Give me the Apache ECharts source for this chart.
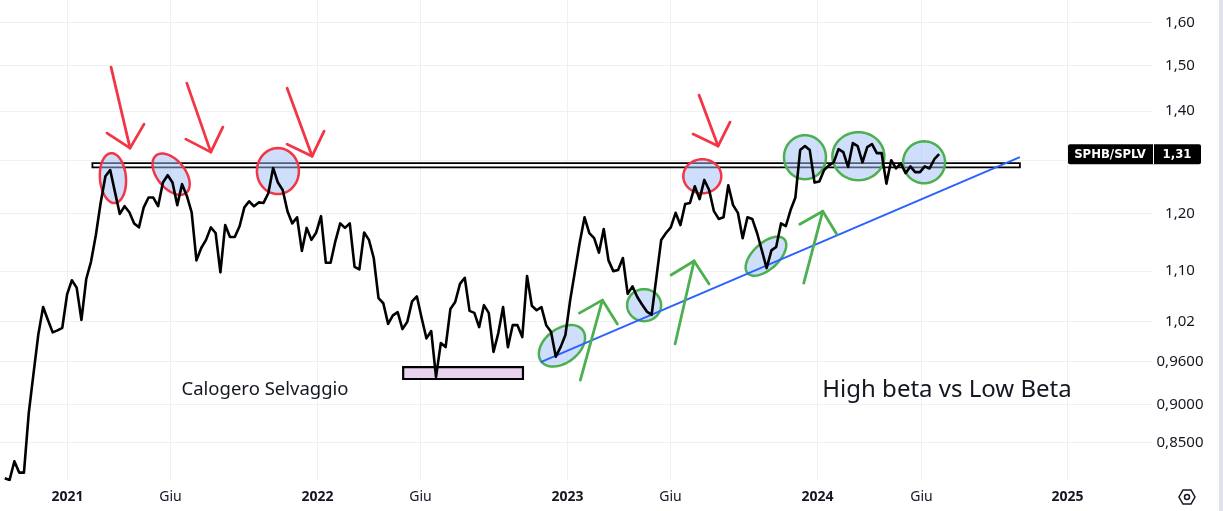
<!DOCTYPE html>
<html><head><meta charset="utf-8">
<script src="https://cdn.jsdelivr.net/npm/echarts@6/dist/echarts.min.js"></script>
<style>html,body{margin:0;padding:0;background:#fff;overflow:hidden}#c{width:1223px;height:511px}</style>
</head><body><div id="c"></div>
<script>
// ---------- DATA ----------
const symbolName = 'SPHB/SPLV';
const firstWeeklyClose = '2020-10-02';   // weekly closes, one per Friday
const ratioValues = [
  0.805,0.803,0.826,0.812,0.812,0.888,0.943,1.000,1.042,1.022,
  1.003,1.006,1.010,1.062,1.085,1.073,1.022,1.087,1.116,1.161,
  1.219,1.269,1.281,1.239,1.199,1.213,1.202,1.182,1.175,1.211,
  1.229,1.229,1.213,1.257,1.271,1.257,1.215,1.254,1.232,1.202,
  1.118,1.139,1.153,1.175,1.165,1.098,1.179,1.158,1.158,1.177,
  1.211,1.222,1.213,1.220,1.219,1.237,1.285,1.257,1.243,1.204,
  1.182,1.193,1.134,1.174,1.153,1.166,1.195,1.114,1.114,1.151,
  1.182,1.174,1.182,1.107,1.103,1.166,1.153,1.122,1.056,1.048,
  1.016,1.029,1.034,1.008,1.019,1.051,1.059,1.025,0.994,1.005,
  0.938,0.987,0.981,1.039,1.050,1.079,1.089,1.036,1.033,1.011,
  1.045,1.033,0.974,1.002,1.042,0.981,1.014,1.014,0.996,1.092,
  1.044,1.037,1.042,1.014,1.004,0.967,0.981,0.999,1.053,1.100,
  1.149,1.193,1.165,1.156,1.131,1.172,1.118,1.100,1.102,1.122,
  1.063,1.075,1.058,1.046,1.035,1.030,1.090,1.153,1.165,1.175,
  1.201,1.179,1.217,1.219,1.250,1.226,1.262,1.243,1.204,1.190,
  1.193,1.252,1.215,1.201,1.156,1.193,1.190,1.165,1.135,1.105,
  1.135,1.141,1.182,1.177,1.206,1.229,1.320,1.328,1.320,1.257,
  1.259,1.281,1.290,1.296,1.322,1.316,1.287,1.334,1.328,1.296,
  1.326,1.332,1.314,1.314,1.255,1.300,1.284,1.294,1.275,1.288,
  1.277,1.277,1.288,1.284,1.302,1.312
];
const xRange = ['2020-09-25', '2025-05-05'];
const yRange = [0.803, 1.655];
const yTickValues = [1.6, 1.5, 1.4, 1.2, 1.1, 1.02, 0.96, 0.9, 0.85];
const yTickLabels = ['1,60','1,50','1,40','1,20','1,10','1,02','0,9600','0,9000','0,8500'];
const yGridValues = [1.6, 1.5, 1.4, 1.3, 1.2, 1.1, 1.02, 0.96, 0.9, 0.85];
const xTickDates = ['2021-01-01','2021-06-01','2022-01-01','2022-06-01','2023-01-01','2023-06-01','2024-01-01','2024-06-01','2025-01-01'];
const xTickLabels = ['2021','Giu','2022','Giu','2023','Giu','2024','Giu','2025'];

// annotations (anchored in data coordinates)
const resistanceBox = [['2021-02-07', 1.2862], ['2024-10-24', 1.2945]];
const lowBox = [['2022-05-07', 0.935], ['2022-10-29', 0.952]];
const trendLine = [['2022-11-24', 0.959], ['2024-10-24', 1.306]];
const redCircles = [['2021-03-09',1.2655],['2021-06-02',1.273],['2021-11-05',1.279],['2023-07-18',1.269]];
const greenCircles = [['2022-12-25',0.983],['2023-04-24',1.045],['2023-10-19',1.125],['2023-12-15',1.306],['2024-03-02',1.308],['2024-06-06',1.296]];
const redArrowTips = [['2021-04-03',1.324],['2021-07-30',1.316],['2021-12-25',1.308],['2023-08-10',1.328]];
const greenArrowTips = [['2023-02-22',1.053],['2023-07-06',1.117],['2024-01-10',1.204]];
const authorText = 'Calogero Selvaggio';
const titleText = 'High beta vs Low Beta';

// ---------- shapes / styles (pixels) ----------
const redCircleShapes = [[13,25,-0.08],[14,24,-0.68],[21,23,0],[19,17,0]];
const greenCircleShapes = [[26,17,-0.65],[17,16,0],[25,13,-0.75],[21,22,0],[26,24,0],[21,21,0]];
const redArrowShapes = [[-19,-81,-23,-15,14,-24],[-24,-69,-25,-13,12,-25],[-25,-68,-25,-12,12,-25],[-19,-51,-25,-12,12,-24]];
const greenArrowShapes = [[-22,80,-23,13,15,24],[-19,83,-23,14,15,23],[-19,72,-23,13,14,23]];
const RED = '#f23645', GREEN = '#4caf50', BLUE = '#2962ff', INK = '#131722', GRID = '#eef0f4';

function ts(s){ const p = s.split('-').map(Number); return new Date(p[0], p[1]-1, p[2]).getTime(); }
const t0 = ts(firstWeeklyClose);
const lineData = ratioValues.map((v, i) => { const d = new Date(t0); d.setDate(d.getDate() + 7*i); return [d.getTime(), v]; });
const xMin = ts(xRange[0]), xMax = ts(xRange[1]);
const pt = (a) => [ts(a[0]), a[1]];

function ellipsePts(cx, cy, rx, ry, rot){
  const pts = [];
  for (let k = 0; k < 60; k++){
    const t = k / 60 * Math.PI * 2;
    const ex = rx*Math.cos(t), ey = ry*Math.sin(t);
    pts.push([cx + ex*Math.cos(rot) - ey*Math.sin(rot), cy + ex*Math.sin(rot) + ey*Math.cos(rot)]);
  }
  return pts;
}

function circleSeries(list, shapes, color){
  return {
    type:'custom', clip:false, z:4, silent:true,
    data: list.map(pt),
    renderItem(params, api){
      const c = api.coord([api.value(0), api.value(1)]);
      const s = shapes[params.dataIndex];
      return { type:'polygon', shape:{ points: ellipsePts(c[0], c[1], s[0], s[1], s[2]) },
        style:{ fill:'rgba(160,190,245,0.5)', stroke: color, lineWidth: 2.5 } };
    }
  };
}
function arrowSeries(list, shapes, color){
  return {
    type:'custom', clip:false, z:6, silent:true,
    data: list.map(pt),
    renderItem(params, api){
      const c = api.coord([api.value(0), api.value(1)]);
      const s = shapes[params.dataIndex];
      const st = { stroke: color, lineWidth: 2.8, fill: null, lineCap:'round', lineJoin:'round' };
      return { type:'group', children:[
        { type:'polyline', shape:{ points:[[c[0]+s[0], c[1]+s[1]], c] }, style: st },
        { type:'polyline', shape:{ points:[[c[0]+s[2], c[1]+s[3]], c, [c[0]+s[4], c[1]+s[5]]] }, style: st }
      ]};
    }
  };
}
function boxSeries(box, fill, z, lw){
  return {
    type:'custom', clip:false, z:z, silent:true,
    data: [pt(box[0])],
    renderItem(params, api){
      const a = api.coord(pt(box[0])), b = api.coord(pt(box[1]));
      return { type:'rect', shape:{ x:a[0], y:b[1], width:b[0]-a[0], height:a[1]-b[1] },
        style:{ fill: fill, stroke:'#000', lineWidth: lw } };
    }
  };
}

const chart = echarts.init(document.getElementById('c'), null, { renderer:'canvas' });
const option = {
  animation:false,
  backgroundColor:'#ffffff',
  grid:{ left:0, right:71, top:0, bottom:31 },
  xAxis:{ type:'time', min:xMin, max:xMax, axisLine:{show:false}, axisTick:{show:false}, axisLabel:{show:false}, splitLine:{show:false} },
  yAxis:{ type:'log', logBase:10, min:yRange[0], max:yRange[1], position:'right', axisLine:{show:false}, axisTick:{show:false}, axisLabel:{show:false}, splitLine:{show:false}, minorSplitLine:{show:false} },
  graphic:[
    { type:'rect', left:1219, top:0, shape:{ width:4, height:511 }, style:{ fill:'#e0e3eb' }, silent:true },
    { type:'polygon', shape:{ points:[[1183,490],[1191,490],[1195,497],[1191,504],[1183,504],[1179,497]] }, style:{ fill:null, stroke:INK, lineWidth:1.5 }, silent:true },
    { type:'circle', shape:{ cx:1187, cy:497, r:2.5 }, style:{ fill:null, stroke:INK, lineWidth:1.5 }, silent:true },
    { type:'text', style:{ text:authorText, x:265, y:390, align:'center', verticalAlign:'middle', font:'18.5px "Noto Sans"', fill:INK }, silent:true, z:10 },
    { type:'text', style:{ text:titleText, x:947, y:390, align:'center', verticalAlign:'middle', font:'24px "Noto Sans"', fill:INK }, silent:true, z:10 }
  ],
  series:[
    { // horizontal grid
      type:'custom', clip:false, z:0, silent:true,
      data: yGridValues.map(v => [xMin, v]),
      renderItem(params, api){
        const cs = params.coordSys; const y = Math.round(api.coord([xMin, api.value(1)])[1]) + 0.5;
        return { type:'line', shape:{ x1:cs.x, y1:y, x2:cs.x+cs.width, y2:y }, style:{ stroke:GRID, lineWidth:1 } };
      }
    },
    { // vertical grid + x labels
      type:'custom', clip:false, z:0, silent:true,
      data: xTickDates.map(d => [ts(d), 1]),
      renderItem(params, api){
        const cs = params.coordSys; const x = Math.round(api.coord([api.value(0), 1])[0]) + 0.5;
        const lab = xTickLabels[params.dataIndex]; const isYear = /^\d+$/.test(lab);
        return { type:'group', children:[
          { type:'line', shape:{ x1:x, y1:cs.y, x2:x, y2:cs.y+cs.height }, style:{ stroke:GRID, lineWidth:1 } },
          { type:'text', style:{ text:lab, x:x, y:cs.y+cs.height+17, align:'center', verticalAlign:'middle',
            font:(isYear?'bold ':'')+'14px "Noto Sans"', fill:INK } }
        ]};
      }
    },
    { // y labels
      type:'custom', clip:false, z:0, silent:true,
      data: yTickValues.map(v => [xMin, v]),
      renderItem(params, api){
        const cs = params.coordSys; const y = api.coord([xMin, api.value(1)])[1];
        return { type:'text', style:{ text:yTickLabels[params.dataIndex], x:cs.x+cs.width+28, y:y, align:'center', verticalAlign:'middle', font:'15px "Noto Sans"', fill:INK } };
      }
    },
    boxSeries(resistanceBox, '#ffffff', 2, 1.8),
    boxSeries(lowBox, '#ead3ef', 2, 2.2),
    circleSeries(redCircles, redCircleShapes, RED),
    circleSeries(greenCircles, greenCircleShapes, GREEN),
    { type:'line', data: lineData, showSymbol:false, symbol:'none', z:5, silent:true,
      lineStyle:{ color:'#000000', width:2.6, join:'round' } },
    { type:'custom', clip:false, z:5, silent:true, data:[pt(trendLine[0])],
      renderItem(params, api){
        const a = api.coord(pt(trendLine[0])), b = api.coord(pt(trendLine[1]));
        return { type:'line', shape:{ x1:a[0], y1:a[1], x2:b[0], y2:b[1] }, style:{ stroke:BLUE, lineWidth:2 } };
      }
    },
    arrowSeries(redArrowTips, redArrowShapes, RED),
    arrowSeries(greenArrowTips, greenArrowShapes, GREEN),
    { // last price label
      type:'custom', clip:false, z:8, silent:true, data:[lineData[lineData.length-1]],
      renderItem(params, api){
        const cs = params.coordSys; const y = api.coord([api.value(0), api.value(1)])[1];
        const r = cs.x + cs.width;
        const val = api.value(1).toFixed(2).replace('.', ',');
        return { type:'group', children:[
          { type:'rect', shape:{ x:r-84, y:y-10, width:133, height:20, r:2 }, style:{ fill:'#000000' } },
          { type:'line', shape:{ x1:r+1.5, y1:y-10, x2:r+1.5, y2:y+10 }, style:{ stroke:'#ffffff', lineWidth:1 } },
          { type:'text', style:{ text:symbolName, x:r-42, y:y, align:'center', verticalAlign:'middle', font:'bold 13px "DejaVu Sans Condensed"', fill:'#ffffff' } },
          { type:'text', style:{ text:val, x:r+25, y:y, align:'center', verticalAlign:'middle', font:'bold 13px "DejaVu Sans Condensed"', fill:'#ffffff' } }
        ]};
      }
    }
  ]
};
chart.setOption(option);
</script>
</body></html>
